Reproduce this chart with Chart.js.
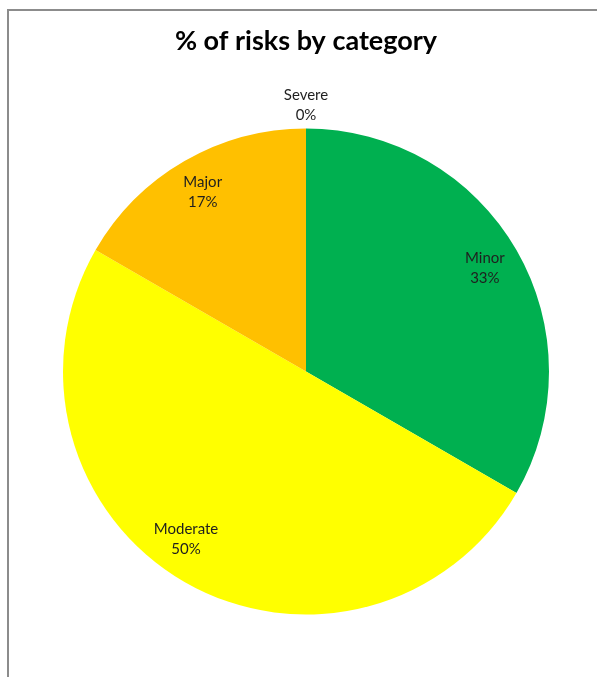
<!DOCTYPE html>
<html>
<head>
<meta charset="utf-8">
<script src="https://cdn.jsdelivr.net/npm/chart.js@4.4.1/dist/chart.umd.min.js"></script>
<style>
    html, body { margin: 0; padding: 0; background: #ffffff; }
    #wrap { position: relative; width: 597px; height: 677px; overflow: hidden; }
    #frame {
        position: absolute; left: 7px; top: 9px; right: -10px; bottom: -10px;
        border-left: 2px solid #8c8c8c; border-top: 2px solid #8c8c8c;
        pointer-events: none;
    }
</style>
</head>
<body>
<div id="wrap">
    <canvas id="riskChart" width="597" height="677"></canvas>
    <div id="frame"></div>
</div>
<script>
// Chart data
const categories = ['Minor', 'Moderate', 'Major', 'Severe'];
const riskCounts = [2, 3, 1, 0];
const sliceColors = ['#00B050', '#FFFF00', '#FFC000', '#FF0000'];

// Draws "Name / NN%" labels like Excel's best-fit data labels
const sliceLabels = {
    id: 'sliceLabels',
    afterDatasetsDraw(chart, args, opts) {
        const ctx = chart.ctx;
        const meta = chart.getDatasetMeta(0);
        const data = chart.data.datasets[0].data;
        const total = data.reduce((a, b) => a + b, 0);
        const shift = opts.angleShift || [];

        ctx.save();
        ctx.font = '15px Lato';
        ctx.fillStyle = '#1f1f1f';
        ctx.textAlign = 'center';
        ctx.textBaseline = 'middle';

        meta.data.forEach((arc, i) => {
            const p = arc.getProps(['x', 'y', 'startAngle', 'endAngle', 'outerRadius'], true);
            const mid = (p.startAngle + p.endAngle) / 2 + (shift[i] || 0) * Math.PI / 180;
            // empty slices get their label just outside the pie
            const dist = data[i] === 0 ? p.outerRadius + 23.5 : p.outerRadius * 0.85;
            const x = p.x + Math.cos(mid) * dist;
            const y = p.y + Math.sin(mid) * dist;
            const pct = Math.round(data[i] / total * 100) + '%';
            ctx.fillText(chart.data.labels[i], x, y - 10);
            ctx.fillText(pct, x, y + 10);
        });
        ctx.restore();
    }
};

new Chart(document.getElementById('riskChart'), {
    type: 'pie',
    data: {
        labels: categories,
        datasets: [{
            data: riskCounts,
            backgroundColor: sliceColors,
            borderWidth: 0
        }]
    },
    options: {
        responsive: false,
        animation: false,
        layout: {
            padding: { left: 15, right: 0, top: 0, bottom: 62.5 }
        },
        plugins: {
            legend: { display: false },
            tooltip: { enabled: false },
            title: {
                display: true,
                text: '% of risks by category',
                color: '#000000',
                font: { family: 'Lato', size: 27, weight: 'bold', lineHeight: 1.2 },
                padding: { top: 25, bottom: 71.1 }
            },
            sliceLabels: { angleShift: [0, 5.5, 0, 0] }
        }
    },
    plugins: [sliceLabels]
});
</script>
</body>
</html>
